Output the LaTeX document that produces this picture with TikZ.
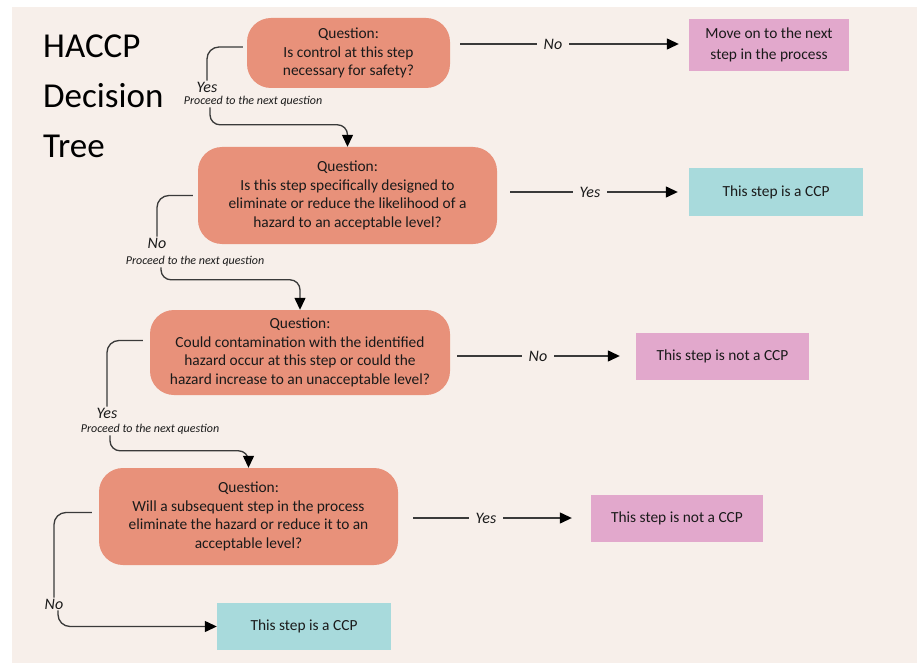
\documentclass[tikz,border=0pt]{standalone}
\usepackage{fontspec}
\setmainfont{Carlito}
\usetikzlibrary{arrows.meta,calc}
\definecolor{bgc}{HTML}{F7EFEA}
\definecolor{qcol}{HTML}{E8917A}
\definecolor{pinkc}{HTML}{E2A8CC}
\definecolor{tealc}{HTML}{A8DADC}
\definecolor{linec}{HTML}{3A3A3A}
\definecolor{txtc}{HTML}{1A1A1A}
\newcommand\qfont{\fontsize{15.4}{18.5}\selectfont}
\tikzset{
  qbox/.style={fill=qcol, rounded corners=24pt, align=center, inner sep=0pt, text=txtc, font=\qfont},
  pbox/.style={fill=pinkc, align=center, inner sep=0pt, text=txtc, font=\qfont},
  tbox/.style={fill=tealc, align=center, inner sep=0pt, text=txtc, font=\qfont},
  lbl/.style={font=\fontsize{16}{18}\selectfont\itshape, text=txtc, inner xsep=7pt, inner ysep=1pt},
  small/.style={font=\fontsize{12}{13}\selectfont\itshape, text=txtc, inner sep=1pt},
  titletxt/.style={font=\fontsize{35}{42}\selectfont, text=black, inner sep=0pt, anchor=base west},
  conn/.style={draw=linec, line width=1.3pt},
  arr/.style={conn, -{Triangle[length=12pt,width=11pt,color=black]}}
}
\begin{document}
\begin{tikzpicture}[x=1pt,y=-1pt]
\useasboundingbox (0,0) rectangle (917,663);
\fill[white] (0,0) rectangle (917,663);
\fill[bgc] (12,7) rectangle (917,663);

% title
\node[titletxt] (t1) at (43,58) {HACCP};
\node[titletxt] (t2) at (43,108) {Decision};
\node[titletxt] (t3) at (43,158) {Tree};

% question boxes
\node[qbox, minimum width=203, minimum height=70] (q1) at (348.5,53)
  {Question:\\Is control at this step\\necessary for safety?};
\node[qbox, minimum width=299, minimum height=97] (q2) at (347.5,195.5)
  {Question:\\Is this step specifically designed to\\eliminate or reduce the likelihood of a\\hazard to an acceptable level?};
\node[qbox, minimum width=300, minimum height=85] (q3) at (300,352.5)
  {Question:\\Could contamination with the identified\\hazard occur at this step or could the\\hazard increase to an unacceptable level?};
\node[qbox, minimum width=299, minimum height=97] (q4) at (248.5,516.5)
  {Question:\\Will a subsequent step in the process\\eliminate the hazard or reduce it to an\\acceptable level?};

% outcome boxes
\node[pbox, minimum width=160, minimum height=52, font=\fontsize{15.4}{20.5}\selectfont] (m1) at (769,45)
  {Move on to the next\\step in the process};
\node[tbox, minimum width=174, minimum height=48] (c1) at (776,192) {This step is a CCP};
\node[pbox, minimum width=173, minimum height=47] (n1) at (722.5,356.5) {This step is not a CCP};
\node[pbox, minimum width=172, minimum height=47] (n2) at (677,518.5) {This step is not a CCP};
\node[tbox, minimum width=174, minimum height=47] (c2) at (304,626.5) {This step is a CCP};

% horizontal labels
\node[lbl] (no1) at (553,44) {No};
\node[lbl] (yes2) at (590,192) {Yes};
\node[lbl] (no3) at (538,356) {No};
\node[lbl] (yes4) at (486,518) {Yes};

\draw[conn, shorten <=10pt] (q1.east |- no1) -- (no1.west);
\draw[arr, shorten >=10pt] (no1.east) -- (m1.west |- no1);
\draw[conn, shorten <=13pt] (q2.east |- yes2) -- (yes2.west);
\draw[arr, shorten >=11pt] (yes2.east) -- (c1.west |- yes2);
\draw[conn, shorten <=7pt] (q3.east |- no3) -- (no3.west);
\draw[arr, shorten >=16pt] (no3.east) -- (n1.west |- no3);
\draw[conn, shorten <=15pt] (q4.east |- yes4) -- (yes4.west);
\draw[arr, shorten >=19pt] (yes4.east) -- (n2.west |- yes4);

% left labels
\node[lbl, inner xsep=1pt] (yes1) at (207,87) {Yes};
\node[small] (p1) at (253,101) {Proceed to the next question};
\node[lbl, inner xsep=1pt] (no2) at (157,243) {No};
\node[small] (p2) at (195,261) {Proceed to the next question};
\node[lbl, inner xsep=1pt] (yes3) at (107,413) {Yes};
\node[small] (p3) at (150,429) {Proceed to the next question};
\node[lbl, inner xsep=1pt] (no4) at (54,604) {No};

% left connectors
\draw[conn, rounded corners=12pt] ($(q1.west)+(-4,-6)$) -| (yes1.north);
\draw[arr, rounded corners=10pt] ($(yes1 |- p1.south)+(3,0)$) |- ($(q2.north)+(0,-22)$) -- (q2.north);

\draw[conn, rounded corners=12pt] ($(q2.west)+(-5,0)$) -| (no2.north);
\draw[arr, rounded corners=10pt] ($(no2 |- p2.south)+(4,0)$) |- ($(q3.north)+(0,-30)$) -- (q3.north);

\draw[conn, rounded corners=12pt] ($(q3.west)+(-7,-12)$) -| (yes3.north);
\draw[arr, rounded corners=10pt] ($(yes3 |- p3.south)+(3,0)$) |- ($(q4.north)+(0,-17)$) -- (q4.north);

\draw[conn, rounded corners=12pt] ($(q4.west)+(-7,-4)$) -| (no4.north);
\draw[arr, rounded corners=12pt] ($(no4.south)+(4,0)$) |- (c2.west);
\end{tikzpicture}
\end{document}
